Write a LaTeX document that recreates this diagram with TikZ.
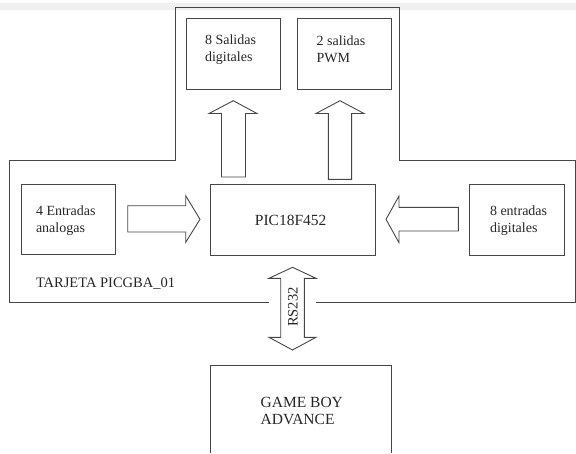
\documentclass[tikz,border=0pt]{standalone}
\usepackage{fontspec}
\setmainfont{Liberation Serif}
\definecolor{linecol}{RGB}{70,70,70}
\definecolor{bandcol}{RGB}{240,240,240}
\begin{document}
\begin{tikzpicture}[x=1pt,y=-1pt,
  every node/.style={inner sep=0pt, outer sep=0pt, font=\fontsize{14}{17}\selectfont},
  boxshape/.style={draw=linecol, line width=0.9pt},
  blockarrow/.style={draw=linecol, line width=0.9pt, line join=miter},
  lbl/.style={anchor=west, align=left, text=black!85}
]
\useasboundingbox (0,0) rectangle (576,453);
\fill[bandcol] (0,3) rectangle (576,9.5);

% outer board outline (with gap for the RS232 arrow)
\coordinate (gR) at (316,302.5);
\coordinate (gL) at (269,302.5);
\draw[boxshape, line join=miter] (gR) -- (575,302.5) -- (575,160.5) -- (399,160.5) -- (399,7)
  -- (175,7) -- (175,160.5) -- (9,160.5) -- (9,302.5) -- (gL);

% boxes
\node[boxshape, minimum width=94.7pt, minimum height=71pt, anchor=north west] (so1) at (186,18.3) {};
\node[boxshape, minimum width=94pt, minimum height=71pt, anchor=north west] (so2) at (297.3,18.3) {};
\node[boxshape, minimum width=94.7pt, minimum height=70.3pt, anchor=north west] (ea) at (21,184) {};
\node[boxshape, minimum width=165.3pt, minimum height=71pt, anchor=north west] (pic) at (210,184) {};
\node[boxshape, minimum width=95pt, minimum height=71.3pt, anchor=north west] (ed) at (469.3,184) {};
\coordinate (gbaBL) at (210,453);
\coordinate (gbaBR) at (391.7,453);
\draw[boxshape, line join=miter] (gbaBL) -- (210,365.7) coordinate (gbaTL) -- (391.7,365.7) coordinate (gbaTR) -- (gbaBR);

% labels
\node[lbl] (tso1) at (205,49.5) {8 Salidas\\digitales};
\node[lbl] (tso2) at (316.7,49.5) {2 salidas\\PWM};
\node[lbl] (tea) at (36,220.5) {4 Entradas\\analogas};
\node[lbl] (ted) at (490,221) {8 entradas\\digitales};
\node[text=black!85, font=\fontsize{15.5}{18}\selectfont] (tpic) at (290.7,220) {PIC18F452};
\node[lbl, font=\fontsize{15.5}{17}\selectfont] (tgba) at (260.7,410.5) {GAME BOY\\ADVANCE};
\node[anchor=west, text=black!85, font=\fontsize{14.5}{17}\selectfont] (tboard) at (36,284) {TARJETA PICGBA\_01};

% block arrows: up to outputs
\draw[blockarrow] (221.5,177) -- (221.5,113.5) -- (209,113.5) -- (233.3,100.7) -- (257,113.5) -- (245.5,113.5) -- (245.5,177) -- cycle;
\draw[blockarrow] (328.3,179.3) -- (328.3,113.5) -- (316,113.5) -- (340,100.7) -- (364,113.5) -- (351.6,113.5) -- (351.6,179.3) -- cycle;
% right-pointing arrow (inputs analog)
\draw[blockarrow] (127.7,205.7) -- (185.7,205.7) -- (185.7,195.7) -- (200,219.3) -- (185.7,242.3) -- (185.7,232) -- (127.7,232) -- cycle;
% left-pointing arrow (digital inputs)
\draw[blockarrow] (458.3,207.3) -- (399,207.3) -- (399,196) -- (386,219.3) -- (399,242.7) -- (399,231) -- (458.3,231) -- cycle;
% double arrow RS232
\draw[blockarrow] (280.7,278.3) -- (269,278.3) -- (292.5,267.3) -- (316,278.3) -- (304.3,278.3)
  -- (304.3,337.3) -- (316,337.3) -- (292.5,350) -- (269,337.3) -- (280.7,337.3) -- cycle;
\node[rotate=90, text=black!85, font=\fontsize{14.5}{17}\selectfont] (rs) at (293,307) {RS232};
\end{tikzpicture}
\end{document}
